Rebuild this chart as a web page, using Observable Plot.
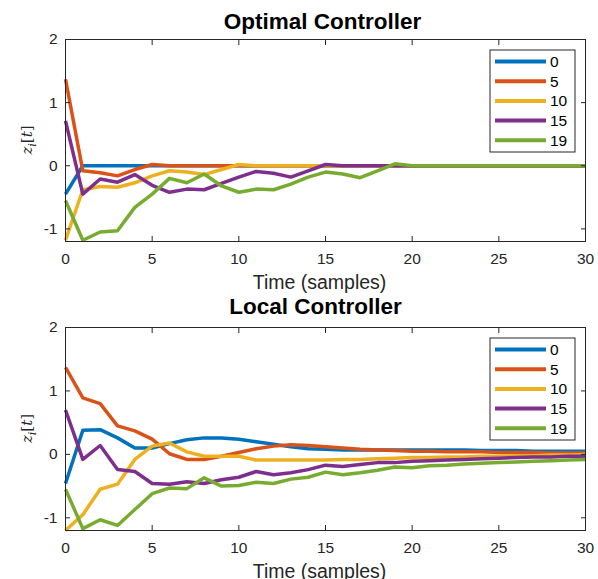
<!DOCTYPE html>
<html>
<head>
<meta charset="utf-8">
<script src="https://cdn.jsdelivr.net/npm/d3@7"></script>
<script src="https://cdn.jsdelivr.net/npm/@observablehq/plot@0.6"></script>
<style>
  body { margin: 0; background: #fff; }
  #wrap { position: relative; width: 598px; height: 579px; font-family: "Liberation Sans", Arial, sans-serif; }
  #wrap svg { position: absolute; left: 0; overflow: visible; }
</style>
</head>
<body>
<div id="wrap"></div>
<script>
const times = [0,1,2,3,4,5,6,7,8,9,10,11,12,13,14,15,16,17,18,19,20,21,22,23,24,25,26,27,28,29,30];
const seriesNames = ["0", "5", "10", "15", "19"];
const colors = ["#0072BD", "#D95319", "#EDB120", "#7E2F8E", "#77AC30"];
const xTicks = [0, 5, 10, 15, 20, 25, 30];
const yTicks = [-1, 0, 1, 2];
const titles = ["Optimal Controller", "Local Controller"];
const xLabel = "Time (samples)";

// Optimal controller
const opt0  = [-0.45,0,0,0,0,0,0,0,0,0,0,0,0,0,0,0,0,0,0,0,0,0,0,0,0,0,0,0,0,0,0];
const opt5  = [1.37,-0.08,-0.11,-0.16,-0.06,0.02,0,0,0,0,0,0,0,0,0,0,0,0,0,0,0,0,0,0,0,0,0,0,0,0,0];
const opt10 = [-1.18,-0.38,-0.33,-0.34,-0.27,-0.16,-0.08,-0.1,-0.14,-0.06,0.02,0,0,0,0,0,0,0,0,0,0,0,0,0,0,0,0,0,0,0,0];
const opt15 = [0.71,-0.45,-0.21,-0.26,-0.14,-0.31,-0.42,-0.37,-0.38,-0.28,-0.18,-0.09,-0.12,-0.18,-0.08,0.02,0,0,0,0,0,0,0,0,0,0,0,0,0,0,0];
const opt19 = [-0.55,-1.18,-1.05,-1.03,-0.66,-0.45,-0.2,-0.27,-0.13,-0.32,-0.42,-0.37,-0.38,-0.29,-0.18,-0.1,-0.13,-0.19,-0.08,0.03,0,0,0,0,0,0,0,0,0,0,0];

// Local controller
const loc0  = [-0.46,0.38,0.39,0.26,0.1,0.1,0.17,0.23,0.26,0.26,0.24,0.2,0.16,0.12,0.09,0.08,0.07,0.07,0.07,0.07,0.07,0.07,0.07,0.07,0.06,0.06,0.06,0.05,0.05,0.05,0.05];
const loc5  = [1.37,0.89,0.8,0.45,0.37,0.24,0.01,-0.08,-0.08,-0.03,0.03,0.09,0.13,0.15,0.14,0.12,0.1,0.08,0.07,0.06,0.05,0.05,0.04,0.04,0.04,0.03,0.03,0.03,0.02,0.02,0.02];
const loc10 = [-1.2,-0.95,-0.55,-0.47,-0.08,0.13,0.18,0.04,-0.03,-0.03,-0.03,-0.09,-0.09,-0.09,-0.09,-0.09,-0.08,-0.08,-0.07,-0.06,-0.05,-0.05,-0.04,-0.04,-0.03,-0.03,-0.02,-0.02,-0.01,-0.01,0];
const loc15 = [0.7,-0.08,0.14,-0.24,-0.27,-0.46,-0.47,-0.43,-0.46,-0.4,-0.36,-0.27,-0.32,-0.29,-0.24,-0.17,-0.19,-0.16,-0.13,-0.13,-0.11,-0.1,-0.09,-0.08,-0.07,-0.06,-0.05,-0.04,-0.04,-0.03,-0.03];
const loc19 = [-0.55,-1.17,-1.03,-1.12,-0.87,-0.62,-0.53,-0.54,-0.37,-0.5,-0.49,-0.44,-0.46,-0.39,-0.36,-0.28,-0.32,-0.29,-0.25,-0.2,-0.21,-0.18,-0.17,-0.15,-0.14,-0.13,-0.12,-0.11,-0.1,-0.09,-0.08];

function toRows(arrs) {
  const rows = [];
  arrs.forEach((arr, k) => arr.forEach((v, i) => rows.push({t: times[i], z: v, s: seriesNames[k]})));
  return rows;
}

const panels = [
  {title: titles[0], rows: toRows([opt0, opt5, opt10, opt15, opt19]), top: 0, height: 290, mt: 39, tdy: -18, tdx: -3},
  {title: titles[1], rows: toRows([loc0, loc5, loc10, loc15, loc19]), top: 290, height: 289, mt: 37, tdy: -21, tdx: -10}
];

const wrap = document.getElementById("wrap");
const axisColor = "#262626";
const mb = 49;

panels.forEach(p => {
  const chart = Plot.plot({
    width: 598,
    height: p.height,
    marginLeft: 65,
    marginRight: 13,
    marginTop: p.mt,
    marginBottom: mb,
    style: {fontFamily: "Liberation Sans, Arial, sans-serif", fontSize: "15px", color: axisColor, background: "transparent"},
    x: {domain: [0, 30]},
    y: {domain: [-1.2, 2]},
    color: {domain: seriesNames, range: colors},
    marks: [
      Plot.line(p.rows, {x: "t", y: "z", stroke: "s", z: "s", strokeWidth: 3.5, strokeLinejoin: "round", strokeLinecap: "butt"}),
      Plot.frame({stroke: axisColor, strokeWidth: 1}),
      Plot.axisX(xTicks, {anchor: "bottom", tickSize: 0, tickPadding: 11, fontSize: 15.5, label: null, tickFormat: d => String(d)}),
      Plot.axisX(xTicks, {anchor: "bottom", tickSize: -5, tickFormat: () => "", label: null}),
      Plot.axisX(xTicks, {anchor: "top", tickSize: -5, tickFormat: () => "", label: null}),
      Plot.axisY(yTicks, {anchor: "left", tickSize: 0, tickPadding: 8, fontSize: 15.5, label: null, tickFormat: d => String(d)}),
      Plot.axisY(yTicks, {anchor: "left", tickSize: -5, tickFormat: () => "", label: null}),
      Plot.axisY(yTicks, {anchor: "right", tickSize: -5, tickFormat: () => "", label: null}),
      Plot.text([p.title], {text: d => d, frameAnchor: "top", lineAnchor: "middle", dy: p.tdy, dx: p.tdx, fontSize: 22.5, fontWeight: "bold", fill: "#000"}),
      Plot.text([xLabel], {text: d => d, frameAnchor: "bottom", lineAnchor: "middle", dy: 41, dx: -6, fontSize: 19.5, fill: axisColor})
    ]
  });
  chart.style.top = p.top + "px";
  wrap.appendChild(chart);

  const svg = d3.select(chart);
  const fy = p.mt + (p.height - p.mt - mb) / 2;
  // y label: z_i[t]
  const yl = svg.append("text")
    .attr("transform", `translate(27,${fy}) rotate(-90)`)
    .attr("text-anchor", "middle")
    .attr("dy", "0.35em")
    .attr("font-family", "DejaVu Serif, Liberation Serif, serif")
    .attr("font-size", 15)
    .attr("fill", axisColor);
  yl.append("tspan").attr("font-style", "italic").text("z");
  yl.append("tspan").attr("font-style", "italic").attr("font-size", 11).attr("dy", 4).text("i");
  yl.append("tspan").attr("dy", -4).text("[");
  yl.append("tspan").attr("font-style", "italic").text("t");
  yl.append("tspan").text("]");

  // legend
  const lx = 490, ly = p.mt + 11, lw = 85, rowH = 19.7;
  const g = svg.append("g").attr("text-anchor", "start");
  g.append("rect").attr("x", lx).attr("y", ly).attr("width", lw).attr("height", 102)
    .attr("fill", "#fff").attr("stroke", axisColor).attr("stroke-width", 1);
  seriesNames.forEach((name, i) => {
    const cy = ly + 11.5 + i * rowH;
    g.append("line").attr("x1", lx + 5).attr("x2", lx + 56).attr("y1", cy).attr("y2", cy)
      .attr("stroke", colors[i]).attr("stroke-width", 4);
    g.append("text").attr("x", lx + 60).attr("y", cy).attr("dy", "0.35em").attr("text-anchor", "start")
      .attr("font-family", "Liberation Sans, Arial, sans-serif").attr("font-size", 15.5).attr("fill", "#000").text(name);
  });
});
</script>
</body>
</html>
